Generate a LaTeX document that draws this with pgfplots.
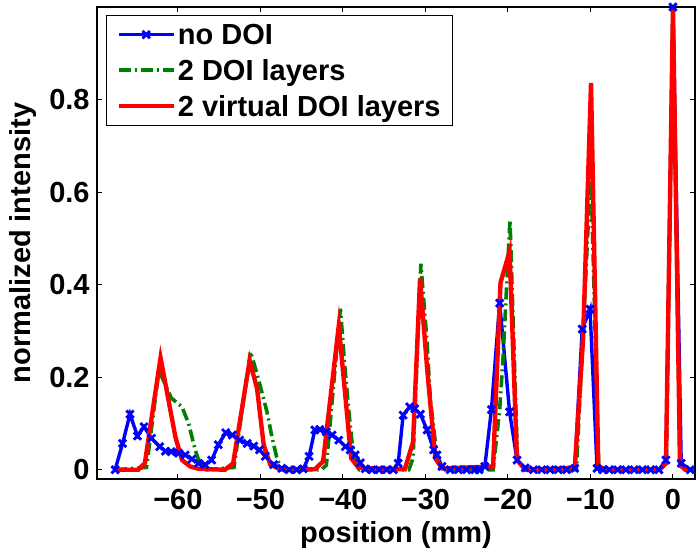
\documentclass[border=0pt]{standalone}
\usepackage{fontspec}
\setmainfont{Liberation Sans}
\usepackage{pgfplots}
\pgfplotsset{compat=1.18}
\definecolor{mgreen}{rgb}{0,0.5,0}

\begin{document}
\begin{tikzpicture}[font=\fontsize{14.5}{16}\selectfont\bfseries]
\useasboundingbox (-48.5pt,-36.5pt) rectangle (299.5pt,239.5pt);
\begin{axis}[
  at={(0,0)}, anchor=south west,
  scale only axis, width=299pt, height=236pt,
  xmin=-69.8, xmax=2.67, ymin=-0.02, ymax=1,
  xtick={-60,-50,...,0},
  xticklabels={−60,−50,−40,−30,−20,−10,0},
  ytick={0,0.2,0.4,0.6,0.8},
  yticklabels={0,0.2,0.4,0.6,0.8},
  /pgf/number format/assume math mode=true,
  tick align=inside, major tick length=2.5pt,
  tick style={black, line width=0.5pt},
  axis line style={line width=0.6pt},
  xticklabel style={inner sep=0pt, anchor=north, yshift=-5pt},
  yticklabel style={inner sep=0pt, anchor=east, xshift=-3.5pt},
  xlabel={position (mm)},
  ylabel={normalized intensity},
  xlabel style={at={(axis description cs:0.5,0)}, anchor=center, inner sep=0pt, yshift=-28pt},
  ylabel style={at={(axis description cs:0,0.5)}, anchor=center, inner sep=0pt, yshift=37pt},
  legend cell align=left,
  legend style={at={(axis description cs:0,1)}, anchor=north west,
    xshift=4.5pt, yshift=-4pt, draw=black, line width=0.5pt, fill=white,
    inner xsep=5pt, inner ysep=3.5pt, row sep=5.5pt,
    nodes={inner sep=1pt, text depth=0pt},
    font=\fontsize{14.5}{16}\selectfont\bfseries},
  legend image code/.code={%
    \draw[mark repeat=2,mark phase=2,#1]
      plot coordinates {(0pt,0pt) (13.75pt,0pt) (27.5pt,0pt)};},
]
% no DOI
\addplot[blue, line width=1.7pt, mark=x, mark size=2.6pt,
         mark options={line width=1.4pt, solid}] coordinates {
(-67.6,0.0) (-66.7,0.057) (-65.8,0.12) (-64.9,0.073) (-64.1,0.093)
(-63.2,0.068) (-62.2,0.05) (-61.5,0.04) (-60.8,0.039) (-59.9,0.036)
(-59.1,0.032) (-58.3,0.023) (-57.5,0.014) (-56.7,0.011) (-55.9,0.021)
(-55.1,0.054) (-54.2,0.08) (-53.4,0.075) (-52.5,0.064) (-51.6,0.057)
(-50.8,0.051) (-50.1,0.043) (-49.4,0.029) (-48.4,0.011) (-47.4,0.003)
(-46.5,0.0) (-45.6,0.0) (-44.8,0.002) (-44.1,0.029) (-43.4,0.086)
(-42.8,0.087) (-42.0,0.082) (-41.3,0.075) (-40.5,0.064) (-39.7,0.05)
(-39.1,0.043) (-38.5,0.032) (-37.9,0.015) (-37.3,0.002) (-36.5,0.0)
(-35.6,0.0) (-34.7,0.0) (-33.9,0.0) (-33.3,0.014) (-32.7,0.118)
(-31.9,0.136) (-31.3,0.132) (-30.6,0.12) (-29.8,0.086) (-29.0,0.043)
(-28.6,0.032) (-28.0,0.007) (-27.0,0.0) (-26.0,0.0) (-25.0,0.0)
(-24.0,0.0) (-23.5,0.0) (-22.8,0.007) (-22.0,0.13) (-21.0,0.36)
(-19.8,0.125) (-18.9,0.021) (-17.9,0.004) (-16.9,0.0) (-15.9,0.0)
(-14.9,0.0) (-13.9,0.0) (-12.9,0.0) (-11.9,0.003) (-11.0,0.304)
(-10.05,0.347) (-9.2,0.003) (-8.5,0.0) (-7.7,0.0) (-6.7,0.0)
(-5.7,0.0) (-4.7,0.0) (-3.7,0.0) (-2.7,0.0) (-1.7,0.0)
(-0.85,0.021) (0,1.0) (1.0,0.014) (2.1,0.0)
};
\addlegendentry{no DOI}
% 2 DOI layers
\addplot[mgreen, line width=1.8pt, dash pattern=on 6pt off 2pt on 1pt off 2pt] coordinates {
(-67.6,0) (-63.8,0.005) (-62.3,0.215) (-60.8,0.155) (-59.5,0.136)
(-58.7,0.10) (-57.9,0.043) (-57.3,0.011) (-56.5,0) (-53.2,0.005)
(-51.2,0.255) (-50.4,0.207) (-49.2,0.125) (-48.6,0.071) (-48.0,0.025)
(-47.4,0) (-42.6,0) (-42.0,0.01) (-40.3,0.348) (-39.8,0.23)
(-39.3,0.13) (-38.9,0.06) (-38.4,0.01) (-38.0,0) (-32.0,0)
(-31.5,0.025) (-30.55,0.445) (-29.8,0.275) (-29.4,0.15) (-29.0,0.09)
(-28.6,0.029) (-28.1,0) (-21.8,0) (-21.0,0.13) (-20.6,0.24)
(-19.75,0.54) (-18.85,0.025) (-18.0,0) (-11.7,0) (-9.95,0.65)
(-9.0,0.005) (-8.0,0) (-1.4,0) (-0.8,0.02) (0,1.0)
(0.85,0.01) (1.5,0) (2.5,0)
};
\addlegendentry{2 DOI layers}
% 2 virtual DOI layers
\addplot[red, line width=2.2pt] coordinates {
(-67.6,0) (-64.8,0) (-64.0,0.014) (-62.1,0.242) (-60.3,0.071)
(-59.5,0.021) (-58.5,0.007) (-57.5,0.002) (-54.3,0.0) (-53.3,0.014)
(-51.3,0.236) (-50.4,0.175) (-49.6,0.054) (-48.8,0.011) (-47.6,0.001)
(-43.4,0.001) (-42.4,0.018) (-40.5,0.311) (-39.0,0.025) (-38.1,0.004)
(-32.5,0.001) (-31.5,0.06) (-30.65,0.413) (-29.8,0.22) (-28.8,0.025)
(-28.0,0.003) (-21.8,0.007) (-20.9,0.404) (-19.8,0.472) (-18.9,0.021)
(-17.9,0.0) (-11.9,0.004) (-10.9,0.28) (-9.93,0.836) (-9.05,0.007)
(-8.0,0) (-1.6,0.0) (-0.85,0.014) (0,1.0) (0.85,0.01)
(1.5,0) (2.5,0)
};
\addlegendentry{2 virtual DOI layers}
\end{axis}
\end{tikzpicture}
\end{document}
